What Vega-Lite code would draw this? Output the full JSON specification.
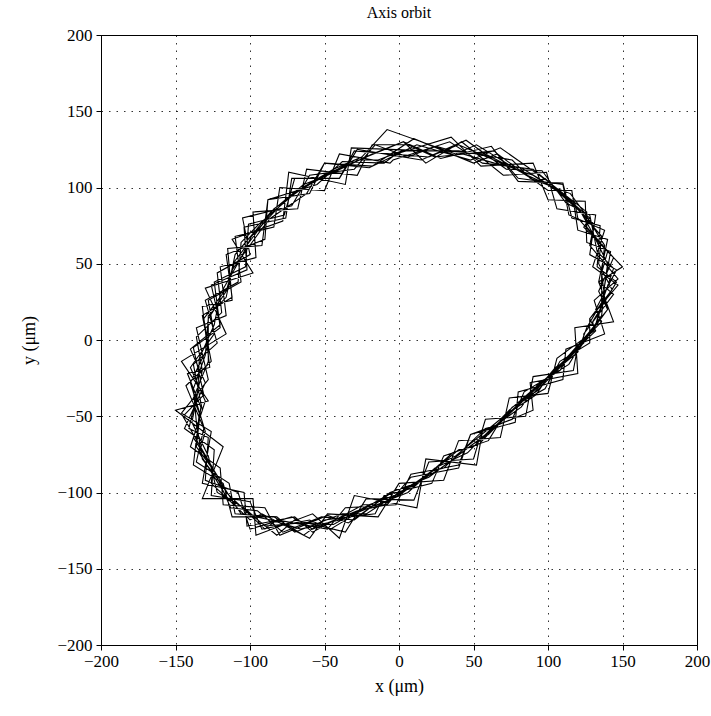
{
  "$schema": "https://vega.github.io/schema/vega-lite/v6.json",
  "width": 596,
  "height": 610,
  "autosize": "none",
  "padding": {"left": 101, "top": 35, "right": 14, "bottom": 71},
  "title": {"text": "Axis orbit", "font": "Liberation Serif", "fontSize": 16, "fontWeight": "normal", "color": "black", "offset": 5},
  "config": {
    "view": {"stroke": "black", "strokeWidth": 1},
    "axis": {
      "labelFont": "Liberation Serif", "labelFontSize": 17, "labelColor": "black",
      "titleFont": "Liberation Serif", "titleFontSize": 18, "titleFontWeight": "normal", "titleColor": "black",
      "domainColor": "black", "tickColor": "black", "tickSize": 5,
      "gridColor": "black", "gridDash": [1.5, 6], "gridOpacity": 0.8
    }
  },
  "data": {"values": [
    {"x":3,"y":130},{"x":28,"y":119},{"x":62,"y":127},{"x":80,"y":104},{"x":110,"y":103},{"x":116,"y":80},{"x":135,"y":75},{"x":133,"y":48},{"x":146,"y":38},{"x":130,"y":12},{"x":131,"y":6},{"x":106,"y":-12},{"x":100,"y":-35},{"x":74,"y":-38},{"x":68,"y":-64},{"x":40,"y":-66},{"x":30,"y":-92},{"x":0,"y":-94},{"x":-14,"y":-116},{"x":-48,"y":-114},{"x":-60,"y":-130},{"x":-92,"y":-114},{"x":-100,"y":-118},{"x":-126,"y":-94},{"x":-125,"y":-84},{"x":-145,"y":-50},{"x":-131,"y":-36},{"x":-138,"y":-5},{"x":-120,"y":8},{"x":-124,"y":38},{"x":-103,"y":48},{"x":-101,"y":76},{"x":-77,"y":82},{"x":-70,"y":106},{"x":-40,"y":106},{"x":-28,"y":125},
    {"x":15,"y":118},{"x":45,"y":131},{"x":72,"y":112},{"x":96,"y":111},{"x":112,"y":90},{"x":128,"y":82},{"x":133,"y":58},{"x":144,"y":47},{"x":136,"y":24},{"x":132,"y":10},{"x":118,"y":-10},{"x":105,"y":-18},{"x":86,"y":-40},{"x":74,"y":-47},{"x":54,"y":-68},{"x":36,"y":-74},{"x":14,"y":-93},{"x":-6,"y":-100},{"x":-30,"y":-118},{"x":-52,"y":-116},{"x":-78,"y":-126},{"x":-95,"y":-112},{"x":-113,"y":-110},{"x":-124,"y":-86},{"x":-136,"y":-70},{"x":-133,"y":-44},{"x":-142,"y":-22},{"x":-127,"y":-18},{"x":-132,"y":22},{"x":-112,"y":26},{"x":-115,"y":60},{"x":-92,"y":62},{"x":-88,"y":92},{"x":-55,"y":102},{"x":-38,"y":117},{"x":-10,"y":116},
    {"x":-2,"y":122},{"x":35,"y":133},{"x":55,"y":114},{"x":90,"y":116},{"x":100,"y":92},{"x":125,"y":91},{"x":126,"y":64},{"x":142,"y":58},{"x":137,"y":30},{"x":140,"y":20},{"x":120,"y":-4},{"x":117,"y":-20},{"x":90,"y":-24},{"x":85,"y":-50},{"x":58,"y":-52},{"x":50,"y":-78},{"x":20,"y":-80},{"x":10,"y":-105},{"x":-22,"y":-104},{"x":-36,"y":-126},{"x":-70,"y":-118},{"x":-82,"y":-128},{"x":-110,"y":-106},{"x":-115,"y":-104},{"x":-134,"y":-74},{"x":-130,"y":-60},{"x":-140,"y":-28},{"x":-128,"y":-4},{"x":-131,"y":14},{"x":-114,"y":36},{"x":-112,"y":46},{"x":-92,"y":73},{"x":-86,"y":80},{"x":-62,"y":96},{"x":-50,"y":116},{"x":-20,"y":113},
    {"x":12,"y":128},{"x":48,"y":118},{"x":68,"y":126},{"x":100,"y":104},{"x":108,"y":96},{"x":131,"y":76},{"x":128,"y":62},{"x":147,"y":40},{"x":131,"y":26},{"x":138,"y":4},{"x":112,"y":-6},{"x":110,"y":-26},{"x":80,"y":-34},{"x":78,"y":-54},{"x":48,"y":-62},{"x":40,"y":-84},{"x":8,"y":-90},{"x":-8,"y":-108},{"x":-28,"y":-112},{"x":-58,"y":-124},{"x":-72,"y":-116},{"x":-100,"y":-124},{"x":-108,"y":-100},{"x":-130,"y":-92},{"x":-128,"y":-64},{"x":-141,"y":-58},{"x":-132,"y":-20},{"x":-136,"y":2},{"x":-119,"y":18},{"x":-122,"y":44},{"x":-100,"y":56},{"x":-105,"y":80},{"x":-72,"y":88},{"x":-60,"y":108},{"x":-30,"y":112},{"x":-16,"y":128},
    {"x":6,"y":120},{"x":25,"y":127},{"x":64,"y":116},{"x":82,"y":113},{"x":107,"y":98},{"x":118,"y":88},{"x":136,"y":68},{"x":134,"y":50},{"x":143,"y":33},{"x":128,"y":14},{"x":128,"y":-2},{"x":108,"y":-14},{"x":98,"y":-32},{"x":76,"y":-44},{"x":66,"y":-56},{"x":42,"y":-74},{"x":28,"y":-84},{"x":2,"y":-100},{"x":-20,"y":-108},{"x":-44,"y":-121},{"x":-66,"y":-120},{"x":-90,"y":-122},{"x":-104,"y":-110},{"x":-122,"y":-100},{"x":-128,"y":-76},{"x":-139,"y":-54},{"x":-135,"y":-34},{"x":-134,"y":-12},{"x":-124,"y":10},{"x":-120,"y":30},{"x":-106,"y":54},{"x":-99,"y":68},{"x":-80,"y":88},{"x":-68,"y":98},{"x":-44,"y":112},{"x":-25,"y":120},
    {"x":-8,"y":138},{"x":38,"y":122},{"x":52,"y":128},{"x":92,"y":104},{"x":98,"y":106},{"x":128,"y":80},{"x":124,"y":74},{"x":150,"y":48},{"x":134,"y":38},{"x":144,"y":12},{"x":118,"y":8},{"x":120,"y":-22},{"x":88,"y":-28},{"x":90,"y":-46},{"x":56,"y":-60},{"x":52,"y":-82},{"x":18,"y":-78},{"x":12,"y":-110},{"x":-30,"y":-102},{"x":-40,"y":-130},{"x":-58,"y":-114},{"x":-96,"y":-128},{"x":-98,"y":-104},{"x":-132,"y":-104},{"x":-118,"y":-70},{"x":-150,"y":-46},{"x":-128,"y":-40},{"x":-146,"y":-14},{"x":-116,"y":4},{"x":-130,"y":34},{"x":-98,"y":44},{"x":-112,"y":66},{"x":-78,"y":78},{"x":-74,"y":110},{"x":-36,"y":102},{"x":-32,"y":126},
    {"x":20,"y":124},{"x":40,"y":124},{"x":76,"y":118},{"x":88,"y":106},{"x":115,"y":96},{"x":124,"y":84},{"x":138,"y":62},{"x":136,"y":44},{"x":138,"y":28},{"x":126,"y":8},{"x":120,"y":-8},{"x":100,"y":-24},{"x":92,"y":-36},{"x":70,"y":-50},{"x":60,"y":-66},{"x":30,"y":-76},{"x":22,"y":-94},{"x":-10,"y":-102},{"x":-16,"y":-114},{"x":-50,"y":-118},{"x":-64,"y":-128},{"x":-84,"y":-116},{"x":-112,"y":-116},{"x":-118,"y":-94},{"x":-138,"y":-82},{"x":-134,"y":-48},{"x":-138,"y":-38},{"x":-128,"y":-14},{"x":-128,"y":16},{"x":-116,"y":28},{"x":-110,"y":56},{"x":-96,"y":72},{"x":-86,"y":84},{"x":-64,"y":102},{"x":-48,"y":108},{"x":-18,"y":122},{"x":3,"y":130},
    {"x":18,"y":116},{"x":42,"y":130},{"x":70,"y":108},{"x":99,"y":110},{"x":106,"y":86},{"x":132,"y":82},{"x":128,"y":56},{"x":146,"y":46},{"x":132,"y":20},{"x":136,"y":12},{"x":112,"y":-12},{"x":110,"y":-16},{"x":82,"y":-40},{"x":78,"y":-44},{"x":50,"y":-70},{"x":40,"y":-72},{"x":10,"y":-96},{"x":-2,"y":-98},{"x":-34,"y":-120},{"x":-48,"y":-115},{"x":-80,"y":-128},{"x":-90,"y":-110},{"x":-118,"y":-108},{"x":-120,"y":-84},{"x":-140,"y":-70},{"x":-130,"y":-40},{"x":-140,"y":-18},{"x":-124,"y":4},{"x":-128,"y":26},{"x":-106,"y":38},{"x":-110,"y":68},{"x":-84,"y":74},{"x":-80,"y":100},{"x":-50,"y":98},{"x":-40,"y":122},{"x":-6,"y":116},
    {"x":-4,"y":118},{"x":34,"y":130},{"x":56,"y":116},{"x":90,"y":112},{"x":100,"y":104},{"x":126,"y":84},{"x":126,"y":74},{"x":144,"y":54},{"x":134,"y":32},{"x":140,"y":20},{"x":122,"y":-4},{"x":116,"y":-10},{"x":92,"y":-34},{"x":84,"y":-38},{"x":60,"y":-62},{"x":50,"y":-68},{"x":20,"y":-90},{"x":10,"y":-94},{"x":-22,"y":-114},{"x":-38,"y":-114},{"x":-70,"y":-126},{"x":-82,"y":-116},{"x":-110,"y":-114},{"x":-114,"y":-94},{"x":-136,"y":-80},{"x":-131,"y":-58},{"x":-143,"y":-30},{"x":-126,"y":-14},{"x":-132,"y":16},{"x":-112,"y":28},{"x":-116,"y":56},{"x":-90,"y":66},{"x":-88,"y":92},{"x":-60,"y":96},{"x":-50,"y":116},{"x":-18,"y":114},
    {"x":10,"y":132},{"x":50,"y":116},{"x":66,"y":122},{"x":100,"y":98},{"x":116,"y":98},{"x":120,"y":72},{"x":140,"y":66},{"x":134,"y":38},{"x":144,"y":30},{"x":124,"y":4},{"x":124,"y":-2},{"x":98,"y":-26},{"x":94,"y":-30},{"x":66,"y":-56},{"x":58,"y":-58},{"x":30,"y":-84},{"x":22,"y":-86},{"x":-10,"y":-108},{"x":-24,"y":-108},{"x":-58,"y":-126},{"x":-70,"y":-116},{"x":-102,"y":-122},{"x":-104,"y":-100},{"x":-132,"y":-94},{"x":-126,"y":-60},{"x":-146,"y":-48},{"x":-128,"y":-26},{"x":-136,"y":8},{"x":-116,"y":16},{"x":-120,"y":48},{"x":-96,"y":54},{"x":-98,"y":84},{"x":-68,"y":86},{"x":-62,"y":112},{"x":-28,"y":108},{"x":-18,"y":128},
    {"x":6,"y":128},{"x":24,"y":120},{"x":64,"y":124},{"x":80,"y":106},{"x":110,"y":102},{"x":114,"y":82},{"x":138,"y":72},{"x":130,"y":48},{"x":147,"y":36},{"x":128,"y":14},{"x":132,"y":6},{"x":106,"y":-18},{"x":100,"y":-24},{"x":74,"y":-46},{"x":68,"y":-52},{"x":38,"y":-76},{"x":30,"y":-80},{"x":0,"y":-102},{"x":-12,"y":-104},{"x":-46,"y":-124},{"x":-60,"y":-118},{"x":-92,"y":-124},{"x":-100,"y":-106},{"x":-126,"y":-102},{"x":-124,"y":-72},{"x":-144,"y":-58},{"x":-130,"y":-28},{"x":-140,"y":-6},{"x":-120,"y":10},{"x":-126,"y":36},{"x":-102,"y":46},{"x":-104,"y":74},{"x":-76,"y":80},{"x":-72,"y":106},{"x":-40,"y":106},{"x":-30,"y":124},
    {"x":20,"y":120},{"x":40,"y":128},{"x":78,"y":112},{"x":90,"y":108},{"x":118,"y":90},{"x":120,"y":80},{"x":140,"y":58},{"x":136,"y":44},{"x":136,"y":22},{"x":132,"y":10},{"x":114,"y":-10},{"x":108,"y":-20},{"x":84,"y":-34},{"x":76,"y":-52},{"x":48,"y":-62},{"x":40,"y":-82},{"x":8,"y":-88},{"x":-2,"y":-108},{"x":-36,"y":-110},{"x":-48,"y":-124},{"x":-82,"y":-118},{"x":-90,"y":-124},{"x":-116,"y":-100},{"x":-120,"y":-92},{"x":-138,"y":-64},{"x":-132,"y":-46},{"x":-138,"y":-16},{"x":-122,"y":-2},{"x":-130,"y":26},{"x":-108,"y":38},{"x":-106,"y":64},{"x":-94,"y":76},{"x":-70,"y":96},{"x":-60,"y":102},{"x":-30,"y":118},{"x":-14,"y":118},
    {"x":2,"y":124},{"x":32,"y":124},{"x":58,"y":122},{"x":86,"y":108},{"x":104,"y":100},{"x":122,"y":84},{"x":130,"y":70},{"x":140,"y":50},{"x":138,"y":36},{"x":136,"y":16},{"x":124,"y":0},{"x":114,"y":-16},{"x":94,"y":-28},{"x":82,"y":-44},{"x":62,"y":-58},{"x":46,"y":-74},{"x":24,"y":-84},{"x":6,"y":-100},{"x":-20,"y":-110},{"x":-40,"y":-118},{"x":-66,"y":-124},{"x":-86,"y":-118},{"x":-106,"y":-114},{"x":-118,"y":-96},{"x":-132,"y":-78},{"x":-136,"y":-54},{"x":-138,"y":-32},{"x":-130,"y":-10},{"x":-128,"y":14},{"x":-116,"y":32},{"x":-110,"y":52},{"x":-96,"y":70},{"x":-84,"y":86},{"x":-64,"y":100},{"x":-46,"y":110},{"x":-22,"y":120},{"x":3,"y":130}
  ]},
  "mark": {"type": "line", "color": "black", "strokeWidth": 1.1, "strokeJoin": "miter"},
  "encoding": {
    "x": {"field": "x", "type": "quantitative", "scale": {"domain": [-200, 200], "nice": false},
      "axis": {"values": [-200,-150,-100,-50,0,50,100,150,200], "title": "x (μm)", "labelPadding": 3, "titlePadding": 8, "labelFlush": false}},
    "y": {"field": "y", "type": "quantitative", "scale": {"domain": [-200, 200], "nice": false},
      "axis": {"values": [-200,-150,-100,-50,0,50,100,150,200], "title": "y (μm)", "labelPadding": 4, "titlePadding": 18, "labelFlush": false}},
    "order": {"value": null}
  }
}
